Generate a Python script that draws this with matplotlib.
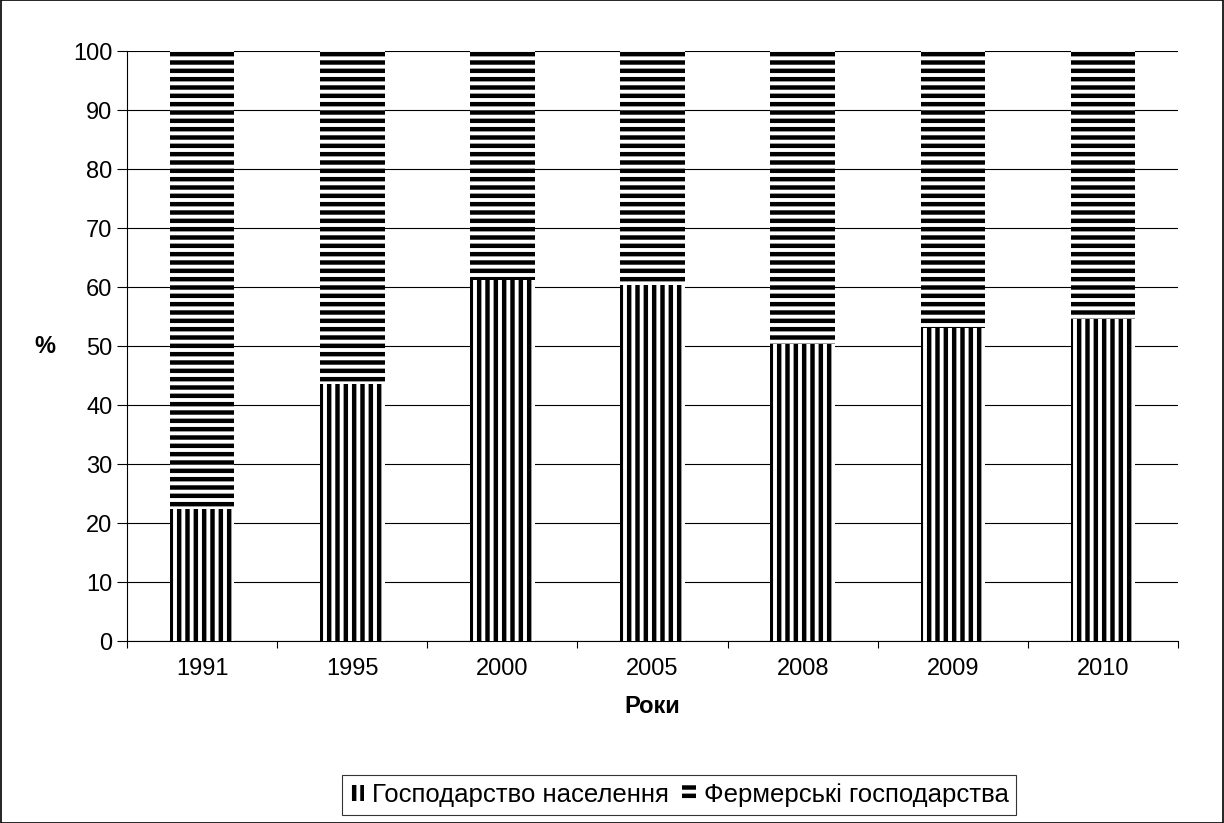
import matplotlib.pyplot as plt
import numpy as np
from matplotlib.patches import Rectangle

years = ['1991', '1995', '2000', '2005', '2008', '2009', '2010']
households = [22.3, 43.5, 61.2, 60.3, 50.3, 53.0, 54.5]
farms = [100 - v for v in households]
series_names = ['Господарство населення', 'Фермерські господарства']

plt.rcParams['font.family'] = ['Liberation Sans', 'DejaVu Sans']
plt.rcParams['hatch.linewidth'] = 3.2

fig = plt.figure(figsize=(12.24, 8.23), dpi=100)
ax = fig.add_axes([0.1038, 0.2211, 0.8586, 0.7169])

x = np.arange(len(years))
w = 0.43
b1 = ax.bar(x, households, w, color='white', edgecolor='black', linewidth=0,
            hatch='||', label=series_names[0], zorder=3)
b2 = ax.bar(x, farms, w, bottom=households, color='white', edgecolor='black',
            linewidth=0, hatch='--', label=series_names[1], zorder=3)

ax.set_xlim(-0.5, len(years) - 0.5)
ax.set_ylim(0, 100)
ax.set_yticks(np.arange(0, 101, 10))
ax.set_xticks(x)
ax.set_xticklabels(years)
ax.set_xticks(np.arange(-0.5, len(years), 1), minor=True)
ax.tick_params(axis='x', which='major', length=0, labelsize=17, pad=12)
ax.tick_params(axis='x', which='minor', length=5, direction='out', width=0.8)
ax.tick_params(axis='y', length=7, direction='out', labelsize=17, width=0.8)

ax.yaxis.grid(True, color='black', linewidth=0.8, zorder=0)
ax.set_axisbelow(True)
for s in ['top', 'right']:
    ax.spines[s].set_visible(False)
for s in ['left', 'bottom']:
    ax.spines[s].set_color('black')
    ax.spines[s].set_linewidth(0.8)

ax.set_xlabel('Роки', fontsize=17, fontweight='bold', labelpad=11)
ax.set_ylabel('%', fontsize=17, fontweight='bold', rotation=0, va='center', ha='center')
ax.yaxis.set_label_coords(-0.078, 0.5)

leg = fig.legend(handles=[b1, b2], loc='lower center', ncol=2,
                 bbox_to_anchor=(0.555, 0.004), fontsize=18.5, frameon=True,
                 fancybox=False, edgecolor='black', handlelength=0.55,
                 handleheight=0.55, handletextpad=0.3, columnspacing=0.5,
                 borderpad=0.3, borderaxespad=0.2)
leg.get_frame().set_linewidth(0.8)

fig.patches.append(Rectangle((0.0005, 0.0005), 0.999, 0.999, transform=fig.transFigure,
                             fill=False, edgecolor='black', linewidth=1.2))

fig.savefig('out.png', dpi=100)
